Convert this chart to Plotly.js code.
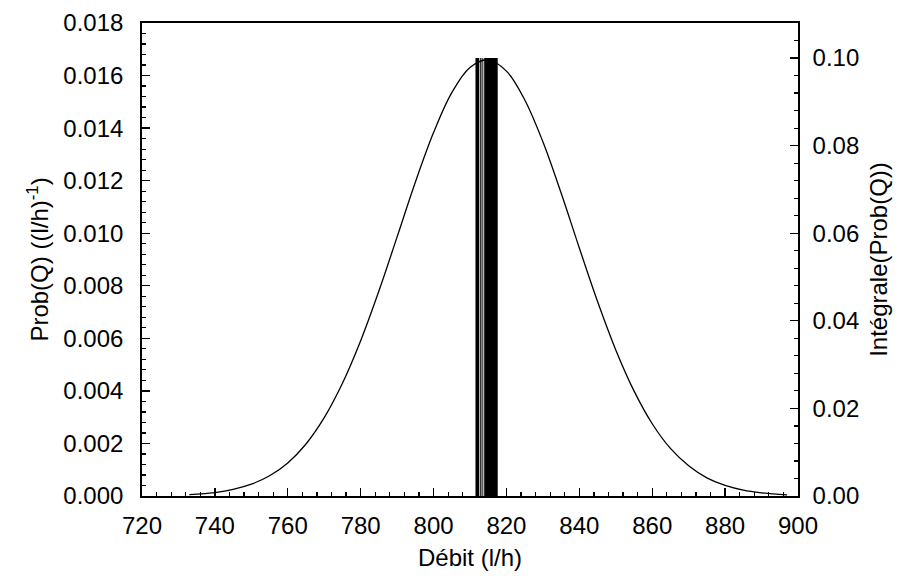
<!DOCTYPE html>
<html>
<head>
<meta charset="utf-8">
<script src="https://cdn.plot.ly/plotly-3.0.1.min.js"></script>
<style>html,body{margin:0;padding:0;background:#fff;}#chart{width:908px;height:586px;}</style>
</head>
<body>
<div id="chart"></div>
<script>
// Probability density curve
const debit = [733, 735, 740, 745, 750, 755, 760, 765, 770, 775, 780, 785, 790, 795, 800, 805, 810, 815,
  820, 825, 830, 835, 840, 845, 850, 855, 860, 865, 870, 875, 880, 885, 890, 895, 897];
const prob = [0.00005, 0.00007, 0.00013, 0.00025, 0.00045, 0.00077, 0.00126, 0.00198, 0.00298, 0.00429,
  0.00591, 0.00780, 0.00986, 0.01194, 0.01383, 0.01535, 0.01631, 0.01660, 0.01617, 0.01508, 0.01348,
  0.01153, 0.00944, 0.00740, 0.00556, 0.00400, 0.00275, 0.00181, 0.00115, 0.00069, 0.00040, 0.00022,
  0.00012, 0.00006, 0.00004];
// Integral blocks (right axis): lower and upper debit edge of each block, and its value
const intLo = [811.5, 812.8, 813.4, 813.9];
const intHi = [812.55, 813.15, 813.65, 817.6];
const intY = [0.100, 0.100, 0.100, 0.100];

const intX = intLo.map((lo, i) => (lo + intHi[i]) / 2);
const intW = intLo.map((lo, i) => intHi[i] - lo);

const FONT = 'Liberation Sans, Arial, sans-serif';
const FS = 24;
const traces = [
  {x: debit, y: prob, type: 'scatter', mode: 'lines', line: {color: '#000', width: 1.3, shape: 'spline'},
   yaxis: 'y', hoverinfo: 'skip'},
  {x: intX, y: intY, width: intW, type: 'bar', marker: {color: '#000', line: {width: 0}},
   yaxis: 'y2', hoverinfo: 'skip'}
];
const layout = {
  width: 908, height: 586,
  margin: {l: 142, r: 110, t: 23, b: 90},
  paper_bgcolor: '#fff', plot_bgcolor: '#fff',
  showlegend: false,
  font: {family: FONT, size: FS, color: '#000'},
  xaxis: {
    range: [720, 900], tick0: 720, dtick: 20, ticks: 'inside', ticklen: 8, tickwidth: 1.3, tickcolor: '#000',
    minor: {dtick: 4, tick0: 720, ticks: 'inside', ticklen: 4, tickwidth: 1.2, tickcolor: '#000'},
    showline: true, linecolor: '#000', linewidth: 1.8, mirror: true, showgrid: false, zeroline: false,
    ticklabelstandoff: 7, tickfont: {size: FS},
    title: {text: 'Débit (l/h)', font: {size: FS}, standoff: 12}
  },
  yaxis: {
    range: [0, 0.018], tick0: 0, dtick: 0.002, tickformat: '.3f', ticks: 'inside', ticklen: 8, tickwidth: 1.3, tickcolor: '#000',
    minor: {dtick: 0.0004, tick0: 0, ticks: 'inside', ticklen: 4, tickwidth: 1.2, tickcolor: '#000'},
    showline: true, linecolor: '#000', linewidth: 1.8, showgrid: false, zeroline: false,
    ticklabelstandoff: 12, tickfont: {size: FS},
    title: {text: 'Prob(Q) ((l/h)<sup>-1</sup>)', font: {size: FS}, standoff: 8}
  },
  yaxis2: {
    overlaying: 'y', side: 'right',
    range: [0, 0.108], tick0: 0, dtick: 0.02, tickformat: '.2f', ticks: 'inside', ticklen: 8, tickwidth: 1.3, tickcolor: '#000',
    minor: {dtick: 0.004, tick0: 0, ticks: 'inside', ticklen: 4, tickwidth: 1.2, tickcolor: '#000'},
    showline: true, linecolor: '#000', linewidth: 1.8, showgrid: false, zeroline: false,
    ticklabelstandoff: 8, tickfont: {size: FS},
    title: {text: 'Intégrale(Prob(Q))', font: {size: FS}, standoff: 12}
  },
  barmode: 'overlay'
};
Plotly.newPlot('chart', traces, layout, {displayModeBar: false, staticPlot: true});
</script>
</body>
</html>
